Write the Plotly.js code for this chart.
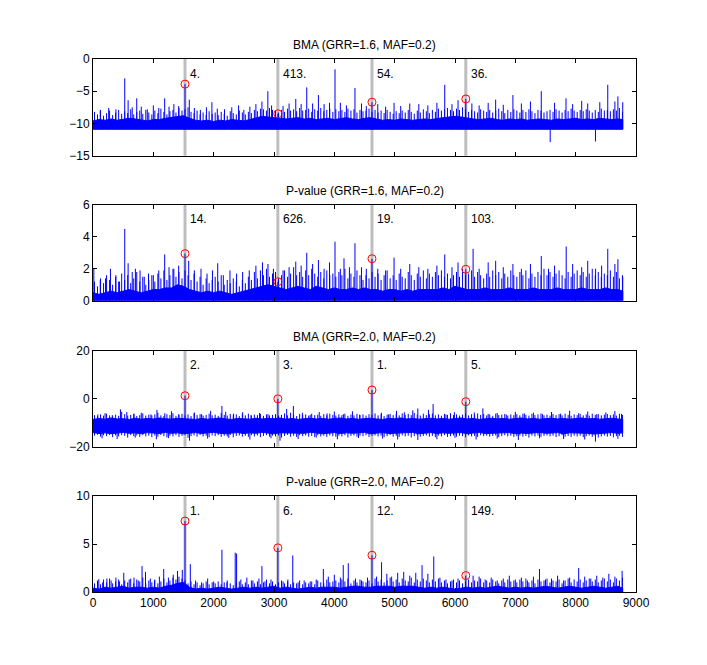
<!DOCTYPE html>
<html><head><meta charset="utf-8">
<script src="https://cdn.plot.ly/plotly-3.0.1.min.js"></script>
<style>html,body{margin:0;padding:0;background:#fff}#chart{width:707px;height:665px}</style>
</head><body><div id="chart"></div>
<script>
// ---------- data ----------
const panelTitles = ["BMA (GRR=1.6, MAF=0.2)", "P-value (GRR=1.6, MAF=0.2)", "BMA (GRR=2.0, MAF=0.2)", "P-value (GRR=2.0, MAF=0.2)"];
const markX = [1525, 3064, 4624, 6179];
const rank16BMA = ["4.", "413.", "54.", "36."];
const rank16P = ["14.", "626.", "19.", "103."];
const rank20BMA = ["2.", "3.", "1.", "5."];
const rank20P = ["1.", "6.", "12.", "149."];
const mark16BMA = [-3.9, -8.5, -6.7, -6.2];
const mark16P = [2.95, 1.19, 2.63, 1.97];
const mark20BMA = [1.3, 0.0, 3.7, -1.2];
const mark20P = [7.39, 4.6, 3.83, 1.71];
const labelY = [-2.3, 5.1, 14.1, 8.46];

const envStep = 100, binStep = 50, dataEnd = 8780;

// solid core of each band (every 100 positions)
const bma16Floor = -10.9;
const bma16Core = [-9.6,-9.4,-9.5,-9.3,-9.5,-9.4,-9.2,-9.3,-9.5,-9.6,-9.4,-9.4,-9.2,-9.1,-8.9,-8.8,-9.2,-9.5,-9.6,-9.5,-9.7,-9.5,-9.6,-9.4,-9.5,-9.6,-9.4,-9.1,-8.9,-9.0,-9.1,-9.1,-9.3,-9.2,-9.1,-9.3,-9.2,-9.4,-9.3,-9.2,-9.4,-9.2,-9.1,-9.3,-9.4,-9.2,-9.1,-9.3,-9.5,-9.4,-9.5,-9.3,-9.4,-9.5,-9.4,-9.3,-9.4,-9.2,-9.1,-9.0,-8.9,-9.0,-9.2,-9.3,-9.4,-9.3,-9.2,-9.4,-9.5,-9.3,-9.4,-9.3,-9.5,-9.4,-9.3,-9.4,-9.5,-9.3,-9.4,-9.3,-9.2,-9.4,-9.3,-9.4,-9.2,-9.3,-9.4,-9.3,-9.4];
const pv16Floor = 0;
const pv16Core = [0.5,0.4,0.5,0.6,0.5,0.6,0.7,0.6,0.5,0.6,0.7,0.7,0.8,0.8,1.0,0.9,0.7,0.6,0.5,0.6,0.5,0.6,0.5,0.4,0.5,0.6,0.7,0.8,0.9,1.0,0.9,0.8,0.7,0.8,0.9,0.8,0.7,0.9,0.8,0.7,0.8,0.7,0.7,0.8,0.7,0.8,0.7,0.7,0.6,0.7,0.7,0.6,0.7,0.6,0.7,0.7,0.7,0.7,0.8,0.7,0.9,0.8,0.7,0.7,0.7,0.8,0.7,0.7,0.7,0.8,0.7,0.7,0.7,0.8,0.7,0.7,0.7,0.8,0.7,0.7,0.7,0.8,0.7,0.7,0.7,0.8,0.7,0.7,0.6];
const bma20Mid = -11.5;
const bma20CoreTop = [-8.6,-8.2,-8.5,-8.0,-8.4,-8.3,-8.6,-8.1,-8.5,-8.2,-8.4,-8.0,-8.3,-8.5,-8.1,-8.2,-8.4,-8.6,-8.2,-8.5,-8.3,-8.0,-8.4,-8.6,-8.2,-8.3,-8.5,-8.1,-8.4,-8.2,-8.3,-8.0,-8.5,-8.2,-8.6,-8.3,-8.1,-8.4,-8.2,-8.5,-8.3,-8.0,-8.4,-8.2,-8.5,-8.3,-8.1,-8.4,-8.6,-8.2,-8.3,-8.0,-8.4,-8.2,-8.5,-8.3,-8.1,-8.4,-8.2,-8.5,-8.3,-8.0,-8.4,-8.2,-8.6,-8.3,-8.1,-8.4,-8.2,-8.5,-8.3,-8.0,-8.4,-8.2,-8.5,-8.3,-8.1,-8.4,-8.2,-8.5,-8.3,-8.0,-8.4,-8.2,-8.5,-8.3,-8.1,-8.4,-8.6];
const bma20CoreBot = [-14.1,-14.5,-14.2,-14.6,-14.3,-14.0,-14.4,-14.2,-14.6,-14.1,-14.3,-14.5,-14.0,-14.4,-14.2,-14.6,-14.3,-14.1,-14.5,-14.2,-14.0,-14.4,-14.6,-14.3,-14.1,-14.5,-14.2,-14.4,-14.0,-14.3,-14.6,-14.2,-14.1,-14.5,-14.3,-14.4,-14.0,-14.2,-14.6,-14.3,-14.1,-14.5,-14.2,-14.4,-14.3,-14.0,-14.6,-14.2,-14.1,-14.5,-14.3,-14.4,-14.2,-14.0,-14.6,-14.3,-14.1,-14.5,-14.2,-14.4,-14.3,-14.1,-14.6,-14.2,-14.0,-14.5,-14.3,-14.4,-14.2,-14.1,-14.6,-14.3,-14.5,-14.2,-14.0,-14.4,-14.3,-14.1,-14.6,-14.2,-14.5,-14.3,-14.4,-14.7,-14.6,-14.3,-14.1,-14.4,-14.2];
const pv20Floor = 0;
const pv20Core = [0.4,0.3,0.5,0.4,0.5,0.6,0.4,0.5,0.5,0.4,0.5,0.4,0.6,0.7,0.9,1.0,0.5,0.3,0.4,0.3,0.4,0.5,0.4,0.3,0.4,0.5,0.4,0.5,0.4,0.5,0.6,0.4,0.5,0.4,0.3,0.4,0.5,0.4,0.5,0.5,0.5,0.4,0.5,0.6,0.6,0.5,0.5,0.6,0.6,0.6,0.5,0.6,0.6,0.6,0.5,0.4,0.5,0.4,0.5,0.4,0.3,0.4,0.5,0.4,0.5,0.4,0.5,0.6,0.5,0.4,0.5,0.4,0.5,0.4,0.5,0.6,0.5,0.4,0.5,0.6,0.5,0.4,0.5,0.6,0.5,0.4,0.5,0.6,0.4];

// highest (and for the BMA 2.0 panel also lowest) value in each bin of 50 positions
const bma16Hi = [-8.2,-8.6,-7.9,-8.8,-8.4,-8.0,-8.7,-8.3,-7.9,-8.5, -8.1,-8.4,-7.8,-8.6,-8.2,-8.0,-8.5,-7.9,-8.3,-8.6, -8.0,-8.4,-7.7,-8.2,-8.6,-8.1,-7.9,-8.3,-7.6,-8.0, -7.8,-7.5,-8.2,-8.4,-8.0,-8.6,-8.3,-8.7,-8.1,-8.5, -8.3,-8.7,-8.2,-8.5,-8.8,-8.1,-8.4,-8.6,-8.0,-8.3, -8.6,-8.2,-8.4,-7.9,-8.1,-7.7,-7.8,-8.0,-7.6,-7.9, -8.0,-8.3,-7.9,-8.2,-7.7,-8.0,-7.8,-8.1,-7.6,-8.0, -7.9,-7.7,-8.2,-7.8,-8.0,-7.6,-8.1,-7.9,-7.7,-8.2, -7.8,-8.1,-7.9,-8.2,-7.7,-8.0,-7.8,-8.3,-7.9,-8.1, -8.0,-7.7,-8.2,-7.9,-8.3,-8.0,-8.4,-7.9,-8.2,-8.5, -8.1,-8.4,-8.0,-8.3,-7.9,-8.2,-8.5,-8.0,-8.3,-7.8, -8.1,-8.4,-7.9,-8.2,-7.7,-8.0,-7.8,-7.6,-7.9,-8.1, -7.7,-7.9,-7.5,-7.8,-8.2,-7.9,-8.1,-8.3,-7.8,-8.0, -8.2,-7.9,-8.3,-8.0,-7.7,-8.1,-8.4,-7.9,-8.2,-7.8, -8.0,-8.3,-7.9,-8.2,-7.8,-8.1,-8.4,-7.9,-8.0,-8.3, -8.1,-7.9,-8.2,-7.8,-8.0,-8.3,-7.9,-8.1,-7.7,-8.0, -8.2,-7.9,-8.1,-7.8,-8.0,-8.3,-7.9,-8.2,-7.7,-8.0, -7.9,-8.1,-7.8,-8.0,-7.6,-8.2];
const pv16Hi = [1.2,0.9,1.4,1.1,1.6,1.3,1.0,1.5,1.2,1.7, 1.3,1.6,1.1,1.4,1.8,1.2,1.5,1.0,1.3,1.6, 1.2,1.7,1.4,1.9,1.3,1.6,2.0,1.5,1.8,1.4, 1.9,1.6,1.3,1.7,1.2,1.5,1.0,1.4,1.1,1.3, 1.5,1.2,1.6,1.0,1.3,1.1,1.4,1.2,0.9,1.3, 1.1,1.5,1.3,1.8,1.4,1.9,1.6,2.0,1.5,1.7, 1.8,1.4,1.6,1.9,1.5,1.7,2.1,1.6,1.8,1.5, 1.9,1.6,2.0,1.7,1.5,1.8,1.4,1.9,1.6,1.7, 1.5,1.8,1.6,2.0,1.4,1.7,1.5,1.9,1.6,1.3, 1.6,1.4,1.8,1.5,1.7,1.3,1.6,1.9,1.4,1.6, 1.3,1.7,1.5,1.4,1.8,1.6,1.3,1.7,1.5,1.9, 1.4,1.7,1.5,1.8,1.6,1.9,1.5,1.7,1.4,1.6, 1.8,1.5,2.0,1.6,1.7,1.9,1.5,1.8,1.6,1.4, 1.7,1.5,1.9,1.6,1.8,1.4,1.7,1.5,1.9,1.6, 1.5,1.8,1.6,1.9,1.4,1.7,1.5,1.8,1.6,2.0, 1.6,1.8,1.5,1.7,1.9,1.6,1.4,1.8,1.5,1.7, 1.9,1.6,1.8,1.5,1.7,2.0,1.6,1.8,1.5,1.7, 1.6,1.9,1.5,1.8,1.4,1.6];
const bma20Hi = [-6.8,-7.2,-6.5,-7.0,-6.2,-6.9,-7.3,-6.6,-7.1,-5.4, -6.4,-7.0,-6.7,-6.3,-7.2,-6.8,-6.1,-7.0,-6.6,-6.9, -6.5,-5.8,-6.9,-7.2,-6.4,-6.8,-6.0,-7.1,-6.6,-6.3, -6.9,-6.5,-7.2,-6.1,-6.8,-6.4,-7.0,-6.7,-6.2,-6.9, -6.6,-7.1,-5.9,-6.7,-7.0,-6.3,-6.8,-6.5,-7.2,-6.4, -6.9,-6.2,-7.0,-6.6,-6.8,-6.3,-7.1,-6.5,-6.9,-6.7, -6.4,-7.0,-6.7,-6.1,-6.9,-5.8,-6.6,-7.2,-6.3,-6.8, -6.5,-7.0,-6.2,-6.8,-6.6,-7.1,-6.4,-6.9,-6.2,-6.7, -7.0,-6.5,-6.8,-6.2,-7.1,-6.6,-6.9,-6.3,-6.8,-6.5, -7.0,-6.4,-6.7,-6.1,-6.9,-6.5,-7.2,-6.6,-6.3,-6.8, -6.4,-6.9,-6.1,-6.7,-6.3,-6.8,-5.9,-6.6,-7.0,-6.2, -6.8,-6.4,-6.1,-6.9,-6.5,-7.1,-6.3,-6.7,-6.0,-6.8, -6.5,-7.0,-6.6,-6.2,-6.9,-6.4,-6.8,-6.1,-6.7,-6.3, -6.9,-6.5,-7.1,-6.2,-6.8,-6.6,-6.3,-7.0,-6.5,-6.8, -6.4,-6.9,-6.2,-6.7,-7.0,-6.3,-6.8,-6.5,-6.1,-6.9, -6.6,-7.0,-6.3,-6.8,-6.4,-6.9,-6.2,-6.7,-7.1,-6.5, -6.8,-6.3,-6.9,-6.5,-7.0,-6.2,-6.7,-6.4,-6.9,-6.6, -6.3,-6.8,-6.5,-7.0,-6.2,-6.7];
const bma20Lo = [-15.4,-15.0,-15.8,-15.2,-15.6,-15.1,-16.0,-15.3,-15.7,-15.2, -15.5,-16.2,-15.1,-15.6,-15.3,-15.9,-15.2,-15.7,-15.4,-16.0, -15.3,-15.8,-15.1,-15.6,-16.1,-15.4,-15.7,-15.2,-15.9,-15.5, -15.2,-16.3,-15.6,-15.3,-15.8,-15.1,-15.7,-15.4,-16.0,-15.3, -15.6,-15.2,-15.9,-15.4,-15.7,-15.1,-16.1,-15.5,-15.3,-15.8, -15.4,-15.9,-15.2,-15.7,-15.3,-16.0,-15.5,-15.2,-15.8,-15.4, -15.7,-15.3,-16.2,-15.5,-15.1,-15.8,-15.4,-15.9,-15.2,-15.6, -15.3,-15.8,-15.5,-16.0,-15.2,-15.7,-15.4,-15.9,-15.3,-15.6, -15.8,-15.4,-15.7,-15.2,-16.1,-15.5,-15.3,-15.8,-15.4,-15.6, -15.2,-15.9,-15.5,-15.3,-15.7,-15.4,-16.0,-15.6,-15.2,-15.8, -15.5,-15.9,-15.3,-15.7,-15.4,-16.1,-15.6,-15.2,-15.8,-15.5, -15.3,-15.8,-15.5,-16.0,-15.4,-15.7,-15.2,-15.9,-15.6,-15.3, -15.8,-15.4,-15.6,-16.1,-15.3,-15.7,-15.5,-15.9,-15.2,-15.6, -15.4,-15.8,-15.5,-15.3,-16.0,-15.6,-15.2,-15.7,-15.4,-15.9, -15.6,-15.3,-15.8,-15.5,-16.2,-15.4,-15.7,-15.3,-15.9,-15.5, -15.3,-15.7,-15.4,-16.0,-15.6,-15.2,-15.8,-15.5,-15.9,-15.4, -15.7,-15.4,-16.0,-15.6,-15.3,-15.9,-15.5,-16.2,-15.7,-15.4, -15.8,-15.5,-16.1,-15.6,-15.4,-15.9];
const pv20Hi = [0.9,1.2,0.8,1.3,1.0,1.4,0.9,1.1,1.3,0.8, 1.2,1.0,1.4,0.9,1.3,1.1,1.5,0.9,1.2,1.0, 1.3,0.9,1.1,1.4,1.0,1.2,1.5,1.3,1.6,1.4, 1.2,0.9,1.1,0.8,1.0,0.7,0.9,1.1,0.8,1.0, 0.9,1.1,0.8,1.0,1.2,0.9,0.7,1.0,1.1,0.8, 1.0,0.8,1.2,0.9,1.1,0.8,1.0,1.3,0.9,1.1, 0.8,1.0,1.2,0.9,1.1,0.8,1.0,0.9,1.2,0.8, 1.0,0.9,1.1,0.8,1.2,1.0,0.9,1.3,1.0,1.1, 1.2,1.0,1.3,1.1,1.4,0.9,1.2,1.0,1.3,1.1, 1.0,1.2,0.9,1.4,1.1,1.3,1.0,1.2,1.5,1.1, 1.3,1.0,1.4,1.2,1.1,1.5,1.0,1.3,1.1,1.4, 1.2,1.0,1.3,1.1,1.4,1.0,1.2,0.9,1.1,1.3, 1.0,1.2,0.9,1.1,1.3,1.0,1.2,1.1,1.4,1.0, 1.2,1.0,1.3,1.1,0.9,1.2,1.0,1.3,1.1,1.2, 1.0,1.3,1.1,1.4,1.0,1.2,0.9,1.3,1.1,1.2, 1.4,1.0,1.2,1.1,1.3,0.9,1.2,1.4,1.0,1.3, 1.1,1.3,1.0,1.2,1.4,1.1,1.3,1.0,1.2,1.4, 1.1,1.3,1.0,1.4,1.2,1.5];

// individual taller spikes: [position, value]
const bma16Spikes = [[120,-8.0],[260,-7.6],[380,-7.8],[526,-3.0],[582,-6.4],[650,-7.5],[725,-6.1],[800,-7.4],[900,-7.8],[1000,-7.2],[1090,-7.6],[1188,-6.1],[1260,-7.4],[1340,-7.0],[1420,-7.3],[1596,-6.3],[1680,-7.6],[1780,-7.9],[1880,-7.5],[1971,-6.7],[2060,-7.7],[2180,-7.8],[2300,-7.5],[2413,-7.2],[2500,-7.9],[2600,-7.4],[2700,-7.0],[2800,-6.6],[2898,-5.0],[2960,-7.2],[3150,-7.3],[3250,-6.9],[3361,-6.2],[3450,-7.0],[3543,-4.4],[3640,-6.9],[3736,-5.6],[3830,-7.0],[3920,-6.8],[4011,-1.6],[4100,-6.8],[4200,-7.2],[4342,-4.5],[4450,-6.9],[4530,-7.3],[4720,-7.0],[4850,-7.4],[4990,-6.8],[5100,-7.3],[5250,-6.9],[5400,-7.0],[5550,-7.2],[5700,-6.8],[5830,-4.0],[5950,-7.0],[6050,-6.4],[6280,-6.9],[6400,-7.2],[6550,-6.8],[6674,-6.3],[6800,-7.1],[6960,-5.6],[7100,-6.9],[7250,-6.6],[7430,-5.0],[7578,-12.9],[7650,-6.8],[7840,-6.1],[7950,-7.0],[8100,-6.5],[8200,-6.9],[8328,-12.8],[8400,-6.7],[8532,-4.0],[8650,-6.6],[8700,-5.8],[8780,-6.7]];
const pv16Spikes = [[14,2.0],[120,1.3],[207,1.4],[289,2.0],[380,1.6],[440,1.2],[526,4.5],[582,2.35],[650,1.8],[703,2.0],[780,1.9],[850,1.5],[920,1.7],[1000,1.6],[1090,1.9],[1188,2.9],[1260,2.1],[1340,2.0],[1420,2.2],[1586,2.5],[1680,1.9],[1790,2.0],[1890,1.7],[1980,1.9],[2067,2.35],[2160,1.6],[2270,1.9],[2380,1.7],[2480,1.8],[2590,1.9],[2700,2.2],[2809,2.4],[2900,2.3],[2990,2.0],[3150,1.9],[3250,2.1],[3361,2.45],[3450,2.2],[3543,3.0],[3640,2.3],[3736,2.55],[3830,2.0],[3920,2.4],[4011,3.7],[4100,2.0],[4160,2.66],[4250,2.1],[4342,3.6],[4450,2.1],[4530,2.0],[4720,2.0],[4850,1.9],[4990,2.7],[5100,2.0],[5250,2.3],[5400,2.1],[5550,2.0],[5700,2.2],[5830,2.9],[5950,2.1],[6050,2.4],[6300,3.25],[6400,2.0],[6550,2.4],[6674,2.5],[6800,2.1],[6960,2.3],[7100,2.0],[7250,2.3],[7430,2.8],[7550,2.0],[7650,2.2],[7843,3.4],[7950,2.3],[8100,2.1],[8200,2.5],[8330,2.0],[8430,2.2],[8532,3.25],[8650,2.3],[8700,2.6],[8780,1.5]];
const bma20Spikes = [[80,-6.5],[200,-6.0],[320,-6.8],[455,-4.4],[560,-5.5],[680,-6.2],[800,-5.8],[960,-6.5],[1060,-4.6],[1190,-6.0],[1300,-5.2],[1420,-6.5],[1680,-5.7],[1800,-6.4],[1950,-5.0],[2137,-3.0],[2200,-5.4],[2330,-6.2],[2480,-5.6],[2620,-6.8],[2760,-5.9],[2900,-6.4],[3210,-4.2],[3321,-3.0],[3470,-5.8],[3600,-6.7],[3750,-5.5],[3880,-6.1],[4000,-5.3],[4150,-6.4],[4300,-5.2],[4420,-6.6],[4780,-5.8],[4900,-6.5],[5030,-5.0],[5160,-5.6],[5300,-4.8],[5384,-4.0],[5560,-4.6],[5637,-2.2],[5850,-6.5],[5990,-5.6],[6320,-5.7],[6462,-4.0],[6550,-6.3],[6700,-5.9],[6850,-6.6],[7000,-5.4],[7150,-6.1],[7300,-5.8],[7450,-6.4],[7600,-5.5],[7750,-6.2],[7900,-5.0],[8050,-6.0],[8200,-5.3],[8350,-6.4],[8500,-5.7],[8650,-5.1],[8760,-6.3],
  [150,-16.5],[400,-16.8],[700,-16.2],[1050,-16.9],[1250,-16.4],[1600,-17.5],[1900,-16.6],[2250,-16.3],[2600,-17.0],[2950,-16.5],[3100,-17.5],[3400,-16.8],[3700,-16.2],[4050,-16.9],[4400,-16.4],[4800,-16.6],[5050,-17.0],[5384,-17.2],[5700,-16.9],[6000,-16.3],[6350,-17.0],[6700,-16.6],[7050,-17.2],[7400,-16.5],[7800,-16.8],[8150,-17.0],[8328,-17.9],[8700,-16.7]];
const pv20Spikes = [[96,1.33],[160,1.0],[230,1.4],[300,1.2],[380,1.5],[440,1.1],[510,2.0],[600,1.3],[680,1.5],[750,1.2],[813,2.7],[870,2.1],[950,1.4],[1020,1.2],[1100,1.6],[1172,2.4],[1250,1.5],[1330,1.8],[1400,2.2],[1480,2.3],[1613,2.9],[1700,1.2],[1800,1.0],[1900,1.4],[2000,1.1],[2137,4.4],[2220,1.0],[2357,4.1],[2380,4.0],[2450,1.3],[2550,1.5],[2650,1.2],[2750,1.4],[2800,2.7],[2850,1.1],[2950,1.3],[3150,1.1],[3230,1.3],[3311,3.8],[3400,1.0],[3500,1.2],[3600,1.1],[3700,1.3],[3818,2.4],[3900,1.6],[4000,1.8],[4100,1.5],[4148,2.8],[4231,3.0],[4350,1.4],[4450,1.2],[4550,1.5],[4700,1.6],[4783,3.1],[4870,1.9],[4950,1.6],[5050,2.0],[5150,2.1],[5250,1.7],[5350,2.0],[5454,2.8],[5550,1.9],[5648,3.7],[5750,1.5],[5850,1.3],[5950,1.2],[6050,1.4],[6300,1.7],[6400,1.6],[6500,1.3],[6600,1.5],[6700,1.2],[6800,1.4],[6900,1.7],[7000,1.3],[7100,1.5],[7200,1.2],[7300,1.6],[7400,2.4],[7500,1.3],[7600,1.4],[7700,1.7],[7800,1.2],[7900,1.5],[8050,2.5],[8150,1.6],[8250,1.4],[8350,1.7],[8450,1.5],[8550,1.9],[8650,1.6],[8770,2.2]];

const yRanges = [[-15, 0], [0, 6], [-20, 20], [0, 10]];
const yTicks = [[-15, -10, -5, 0], [0, 2, 4, 6], [-20, 0, 20], [0, 5, 10]];
const xTicks = [0, 1000, 2000, 3000, 4000, 5000, 6000, 7000, 8000, 9000];

// ---------- build ----------
const panels = [
  {top: bma16Core, bot: null, floor: bma16Floor, hi: bma16Hi, lo: null, spikes: bma16Spikes, mark: mark16BMA, rank: rank16BMA},
  {top: pv16Core, bot: null, floor: pv16Floor, hi: pv16Hi, lo: null, spikes: pv16Spikes, mark: mark16P, rank: rank16P},
  {top: bma20CoreTop, bot: bma20CoreBot, floor: bma20Mid, hi: bma20Hi, lo: bma20Lo, spikes: bma20Spikes, mark: mark20BMA, rank: rank20BMA},
  {top: pv20Core, bot: null, floor: pv20Floor, hi: pv20Hi, lo: null, spikes: pv20Spikes, mark: mark20P, rank: rank20P}
];
const domains = [[0.8186, 1], [0.5465, 0.7261], [0.2726, 0.4522], [0, 0.1801]];
const BLUE = '#0000ff';
const FONT = 'Liberation Sans, Arial, Helvetica, sans-serif';
const traces = [], shapes = [], annotations = [];
const layout = {
  width: 707, height: 665,
  margin: {l: 93, r: 71, t: 59, b: 73, pad: 0},
  paper_bgcolor: '#fff', plot_bgcolor: '#fff',
  showlegend: false,
  font: {family: FONT, size: 12, color: '#000'}
};

panels.forEach((p, k) => {
  const s = k === 0 ? '' : String(k + 1);
  const xa = 'x' + s, ya = 'y' + s;
  // solid core
  const ex = p.top.map((v, i) => Math.min(i * envStep, dataEnd));
  const bot = p.bot ? p.bot : p.top.map(() => p.floor);
  traces.push({
    type: 'scatter', mode: 'lines', xaxis: xa, yaxis: ya,
    x: ex.concat(ex.slice().reverse()),
    y: p.top.concat(bot.slice().reverse()),
    fill: 'toself', fillcolor: BLUE, line: {color: BLUE, width: 1}, hoverinfo: 'skip'
  });
  // per-bin extremes and tall spikes, drawn as vertical strokes
  const sx = [], sy = [];
  p.hi.forEach((v, i) => {
    const x = Math.min(i * binStep + binStep / 2, dataEnd);
    const from = p.lo ? p.lo[i] : p.floor;
    sx.push(x, x, null); sy.push(from, v, null);
  });
  const all = p.spikes.concat(markX.map((x, i) => [x, p.mark[i]]));
  all.forEach(([x, v]) => { sx.push(x, x, null); sy.push(p.floor, v, null); });
  traces.push({type: 'scatter', mode: 'lines', xaxis: xa, yaxis: ya, x: sx, y: sy,
    line: {color: BLUE, width: 1}, connectgaps: false, hoverinfo: 'skip'});
  traces.push({type: 'scatter', mode: 'markers', xaxis: xa, yaxis: ya, x: markX, y: p.mark,
    marker: {symbol: 'circle-open', size: 8, color: '#ff0000', line: {width: 1, color: '#ff0000'}}});

  layout['xaxis' + s] = {
    domain: [0, 1], anchor: ya, range: [0, 9000], tickvals: xTicks,
    ticks: 'inside', ticklen: 4, tickcolor: '#000', showline: true, linecolor: '#000', linewidth: 1,
    mirror: 'allticks', showgrid: false, zeroline: false, showticklabels: k === 3,
    tickfont: {family: FONT, size: 12, color: '#000'}, fixedrange: true
  };
  layout['yaxis' + s] = {
    domain: domains[k], anchor: xa, range: yRanges[k], tickvals: yTicks[k],
    ticks: 'inside', ticklen: 4, tickcolor: '#000', showline: true, linecolor: '#000', linewidth: 1,
    mirror: 'allticks', showgrid: false, zeroline: false,
    tickfont: {family: FONT, size: 12, color: '#000'}, fixedrange: true
  };
  markX.forEach((x, i) => {
    shapes.push({type: 'line', layer: 'below', xref: xa, yref: ya + ' domain', x0: x, x1: x, y0: 0, y1: 1,
      line: {color: '#bebebe', width: 3}});
    annotations.push({xref: xa, yref: ya, x: x, y: labelY[k], text: p.rank[i], showarrow: false,
      xanchor: 'left', yanchor: 'middle', xshift: 3, font: {family: FONT, size: 12, color: '#000'}});
  });
  annotations.push({xref: 'paper', yref: ya + ' domain', x: 0.5, y: 1, text: panelTitles[k], showarrow: false,
    xanchor: 'center', yanchor: 'middle', yshift: 14, font: {family: FONT, size: 12, color: '#000'}});
});
layout.shapes = shapes;
layout.annotations = annotations;
Plotly.newPlot('chart', traces, layout, {displayModeBar: false, staticPlot: true});
</script>
</body></html>
